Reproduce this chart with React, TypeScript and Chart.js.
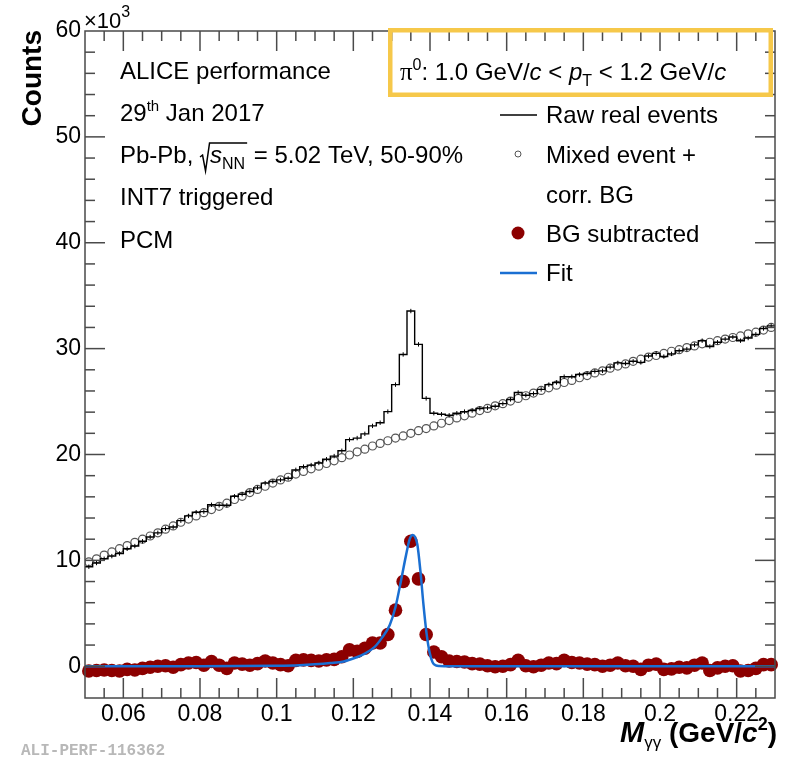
import React, { useEffect, useRef } from 'react';
import { Chart, registerables } from 'chart.js';

Chart.register(...registerables);

// ---- axis definition ----
const X_MIN = 0.05;
const X_MAX = 0.23;
const BIN_WIDTH = 0.002;
const Y_MIN = -3;
const Y_MAX = 60;
const X_TICK_LABELS = [0.06, 0.08, 0.1, 0.12, 0.14, 0.16, 0.18, 0.2, 0.22];
const Y_TICK_LABELS = [0, 10, 20, 30, 40, 50, 60];

// ---- data (counts in units of 10^3), one value per 0.002 GeV/c^2 bin ----
const MIXED_BG = [
  9.85, 10.15, 10.5, 10.8, 11.1, 11.4, 11.7, 12.0, 12.3, 12.6,
  12.95, 13.25, 13.6, 13.9, 14.2, 14.5, 14.8, 15.1, 15.4, 15.75,
  16.05, 16.4, 16.7, 17.0, 17.3, 17.6, 17.85, 18.15, 18.4, 18.65,
  18.9, 19.15, 19.4, 19.7, 19.95, 20.25, 20.5, 20.8, 21.05, 21.3,
  21.55, 21.75, 22.0, 22.25, 22.45, 22.7, 22.95, 23.2, 23.45, 23.65,
  23.9, 24.15, 24.35, 24.6, 24.8, 25.05, 25.3, 25.55, 25.8, 26.05,
  26.3, 26.55, 26.8, 27.0, 27.25, 27.45, 27.7, 27.9, 28.15, 28.35,
  28.55, 28.8, 29.0, 29.2, 29.35, 29.55, 29.75, 29.9, 30.1, 30.25,
  30.45, 30.6, 30.75, 30.9, 31.05, 31.2, 31.4, 31.55, 31.75, 32.0,
];

const BG_SUBTRACTED = [
  -0.45, -0.4, -0.35, -0.4, -0.45, -0.3, -0.35, -0.2, -0.1, 0.0,
  0.05, -0.1, 0.15, 0.3, 0.35, 0.1, 0.45, 0.1, -0.2, 0.3,
  0.2, 0.1, 0.25, 0.5, 0.3, 0.15, 0.05, 0.55, 0.6, 0.55,
  0.5, 0.6, 0.65, 0.9, 1.55, 1.4, 1.7, 2.2, 2.2, 3.0,
  5.3, 8.0, 11.8, 8.25, 3.0, 1.35, 0.9, 0.5, 0.45, 0.4,
  0.25, 0.2, 0.05, -0.05, 0.0, 0.15, 0.55, 0.05, -0.05, 0.1,
  0.3, 0.25, 0.55, 0.35, 0.3, 0.2, 0.15, 0.0, 0.1, 0.3,
  0.05, 0.0, -0.3, 0.1, 0.2, -0.3, -0.25, -0.1, -0.15, 0.1,
  0.3, -0.4, -0.15, 0.0, 0.05, -0.45, -0.4, -0.2, 0.15, 0.15,
];

const RAW_REAL = [
  9.4, 9.75, 10.15, 10.4, 10.65, 11.1, 11.35, 11.8, 12.2, 12.6,
  13.0, 13.15, 13.75, 14.2, 14.55, 14.6, 15.25, 15.2, 15.2, 16.05,
  16.25, 16.5, 16.85, 17.3, 17.45, 17.6, 17.75, 18.55, 18.85, 19.0,
  19.2, 19.55, 19.85, 20.35, 21.4, 21.55, 21.95, 22.7, 23.0, 24.05,
  26.6, 29.45, 33.55, 30.4, 25.3, 23.9, 23.8, 23.7, 23.9, 24.05,
  24.15, 24.35, 24.4, 24.55, 24.8, 25.2, 25.85, 25.6, 25.75, 26.15,
  26.6, 26.8, 27.35, 27.35, 27.55, 27.65, 27.85, 27.9, 28.25, 28.65,
  28.6, 28.8, 28.7, 29.3, 29.55, 29.25, 29.5, 29.8, 29.95, 30.35,
  30.75, 30.2, 30.6, 30.9, 31.1, 30.75, 31.0, 31.35, 31.9, 32.15,
];

const FIT_X = [
  0.05, 0.08, 0.1, 0.106, 0.11, 0.114, 0.1175, 0.1205, 0.123, 0.1255,
  0.1275, 0.1295, 0.131, 0.1325, 0.1337, 0.1347, 0.1355, 0.1361, 0.1367, 0.1375,
  0.1383, 0.1391, 0.1399, 0.1407, 0.1415, 0.1425, 0.1455, 0.18, 0.23,
];
const FIT_Y = [
  0.0, 0.0, 0.05, 0.1, 0.18, 0.3, 0.45, 0.8, 1.2, 1.8,
  2.7, 3.9, 5.6, 8.2, 10.4, 12.0, 12.4, 12.2, 11.5, 9.0,
  5.8, 3.1, 1.3, 0.35, 0.08, 0.02, 0.0, 0.0, 0.0,
];

// ---- styles ----
const SANS = '"Liberation Sans", Arial, Helvetica, sans-serif';
const SERIF = '"Liberation Serif", "Times New Roman", serif';
const MONO = '"Liberation Mono", "DejaVu Sans Mono", monospace';
const RED = '#8c0000';
const BLUE = '#1a6fd2';
const GREY = '#555555';
const AXIS = '#4a4a4a';
const BOX = '#f6c84a';

type Part = { t: string; size?: number; bold?: boolean; italic?: boolean; dy?: number; family?: string };

function drawRich(
  ctx: CanvasRenderingContext2D,
  x: number,
  y: number,
  parts: Part[],
  base: number,
  align: 'left' | 'right' = 'left',
) {
  const fontOf = (p: Part) =>
    `${p.italic ? 'italic ' : ''}${p.bold ? 'bold ' : ''}${p.size ?? base}px ${p.family ?? SANS}`;
  let total = 0;
  parts.forEach((p) => {
    ctx.font = fontOf(p);
    total += ctx.measureText(p.t).width;
  });
  let cx = align === 'right' ? x - total : x;
  ctx.textAlign = 'left';
  ctx.textBaseline = 'alphabetic';
  parts.forEach((p) => {
    ctx.font = fontOf(p);
    ctx.fillText(p.t, cx, y + (p.dy ?? 0));
    cx += ctx.measureText(p.t).width;
  });
  return cx;
}

const isLabelX = (v: number) => X_TICK_LABELS.some((l) => Math.abs(l - v) < 1e-7);
const isLabelY = (v: number) => Y_TICK_LABELS.some((l) => Math.abs(l - v) < 1e-7);

const rootStyle = {
  id: 'rootStyle',
  beforeDraw(chart: any) {
    const { ctx, width, height } = chart;
    ctx.save();
    ctx.fillStyle = '#ffffff';
    ctx.fillRect(0, 0, width, height);
    ctx.restore();
  },
  afterDatasetsDraw(chart: any) {
    // small statistical error bars on the raw histogram
    const { ctx, scales } = chart;
    const xs = scales.x;
    const ys = scales.y;
    ctx.save();
    ctx.strokeStyle = '#000';
    ctx.lineWidth = 1;
    RAW_REAL.forEach((v, i) => {
      const px = xs.getPixelForValue(X_MIN + (i + 0.5) * BIN_WIDTH);
      const py = ys.getPixelForValue(v);
      ctx.beginPath();
      ctx.moveTo(px, py - 2.2);
      ctx.lineTo(px, py + 2.2);
      ctx.stroke();
    });
    ctx.restore();
  },
  afterDraw(chart: any) {
    const { ctx, chartArea, scales } = chart;
    const { left, right, top, bottom } = chartArea;
    const xs = scales.x;
    const ys = scales.y;
    ctx.save();
    // frame + inner ticks
    ctx.strokeStyle = AXIS;
    ctx.lineWidth = 1.5;
    const seg = (x1: number, y1: number, x2: number, y2: number) => {
      ctx.beginPath();
      ctx.moveTo(x1, y1);
      ctx.lineTo(x2, y2);
      ctx.stroke();
    };
    xs.ticks.forEach((t: any) => {
      const px = xs.getPixelForValue(t.value);
      if (px <= left + 1 || px >= right - 1) return;
      const L = isLabelX(t.value) ? 20 : 10;
      seg(px, bottom, px, bottom - L);
      seg(px, top, px, top + L);
    });
    ys.ticks.forEach((t: any) => {
      const v = t.value;
      if (Math.abs(v / 2 - Math.round(v / 2)) > 1e-6) return;
      const py = ys.getPixelForValue(v);
      if (py >= bottom - 1 || py <= top + 1) return;
      const L = Math.abs(v / 10 - Math.round(v / 10)) < 1e-6 ? 20 : 10;
      seg(left, py, left + L, py);
      seg(right, py, right - L, py);
    });
    ctx.strokeRect(left, top, right - left, bottom - top);

    ctx.fillStyle = '#000';
    // y exponent
    drawRich(ctx, left - 1, 28, [{ t: '×10' }, { t: '3', size: 16, dy: -11 }], 22);

    // y title
    ctx.save();
    ctx.translate(41, top - 1);
    ctx.rotate(-Math.PI / 2);
    ctx.font = `bold 28px ${SANS}`;
    ctx.textAlign = 'right';
    ctx.textBaseline = 'alphabetic';
    ctx.fillText('Counts', 0, 0);
    ctx.restore();

    // x title
    drawRich(
      ctx,
      777,
      742,
      [
        { t: 'M', italic: true, bold: true, size: 29 },
        { t: 'γγ', size: 17, dy: 6 },
        { t: ' (GeV/', bold: true },
        { t: 'c', italic: true, bold: true },
        { t: '2', size: 18, dy: -12, bold: true },
        { t: ')', bold: true },
      ],
      28,
      'right',
    );

    // ALICE info
    const tx = 120;
    drawRich(ctx, tx, 79, [{ t: 'ALICE performance' }], 24);
    drawRich(ctx, tx, 121, [{ t: '29' }, { t: 'th', size: 15, dy: -10 }, { t: ' Jan 2017' }], 24);
    const rx = drawRich(ctx, tx, 163, [{ t: 'Pb-Pb, ' }], 24);
    const sx = rx + 10;
    const ex = drawRich(ctx, sx, 163, [{ t: 's', italic: true }, { t: 'NN', size: 16, dy: 6 }], 24);
    ctx.beginPath();
    ctx.lineWidth = 1.5;
    ctx.strokeStyle = '#000';
    ctx.moveTo(rx, 157);
    ctx.lineTo(rx + 2.5, 155);
    ctx.lineTo(rx + 5.5, 171);
    ctx.lineTo(rx + 9.5, 143);
    ctx.lineTo(ex + 2, 143);
    ctx.stroke();
    drawRich(ctx, ex + 2, 163, [{ t: ' = 5.02 TeV, 50-90%' }], 24);
    drawRich(ctx, tx, 205, [{ t: 'INT7 triggered' }], 24);
    drawRich(ctx, tx, 248, [{ t: 'PCM' }], 24);

    // pT box
    ctx.strokeStyle = BOX;
    ctx.lineWidth = 4.5;
    ctx.strokeRect(390.25, 30.25, 380.5, 64.5);
    drawRich(
      ctx,
      400,
      80,
      [
        { t: 'π', family: SERIF, size: 25 },
        { t: '0', size: 16, dy: -10 },
        { t: ': 1.0 GeV/' },
        { t: 'c', italic: true },
        { t: ' < ' },
        { t: 'p', italic: true },
        { t: 'T', size: 16, dy: 6 },
        { t: ' < 1.2 GeV/' },
        { t: 'c', italic: true },
      ],
      24,
    );

    // legend
    ctx.strokeStyle = '#000';
    ctx.lineWidth = 1.3;
    seg(500, 115, 537, 115);
    drawRich(ctx, 546, 123, [{ t: 'Raw real events' }], 24);
    ctx.strokeStyle = GREY;
    ctx.lineWidth = 1;
    ctx.beginPath();
    ctx.arc(518, 154, 3, 0, Math.PI * 2);
    ctx.stroke();
    drawRich(ctx, 546, 163, [{ t: 'Mixed event +' }], 24);
    drawRich(ctx, 546, 203, [{ t: 'corr. BG' }], 24);
    ctx.fillStyle = RED;
    ctx.beginPath();
    ctx.arc(518, 233, 6.5, 0, Math.PI * 2);
    ctx.fill();
    ctx.fillStyle = '#000';
    drawRich(ctx, 546, 242, [{ t: 'BG subtracted' }], 24);
    ctx.strokeStyle = BLUE;
    ctx.lineWidth = 2.5;
    seg(500, 273, 537, 273);
    drawRich(ctx, 546, 281, [{ t: 'Fit' }], 24);

    // figure id
    ctx.fillStyle = '#b8b8b8';
    ctx.font = `bold 16px ${MONO}`;
    ctx.textAlign = 'left';
    ctx.fillText('ALI-PERF-116362', 21, 755);
    ctx.restore();
  },
};

export default function App() {
  const ref = useRef<HTMLCanvasElement | null>(null);

  useEffect(() => {
    if (!ref.current) return;
    const centers = MIXED_BG.map((_, i) => X_MIN + (i + 0.5) * BIN_WIDTH);
    const rawStep = RAW_REAL.map((y, i) => ({ x: X_MIN + i * BIN_WIDTH, y })).concat([
      { x: X_MAX, y: RAW_REAL[RAW_REAL.length - 1] },
    ]);
    const tickFont = { family: SANS, size: 23 };
    const chart = new Chart(ref.current, {
      type: 'scatter',
      data: {
        datasets: [
          {
            type: 'line',
            label: 'Fit',
            data: FIT_X.map((x, i) => ({ x, y: FIT_Y[i] })),
            borderColor: BLUE,
            borderWidth: 2.5,
            pointRadius: 0,
            cubicInterpolationMode: 'monotone',
            fill: false,
          },
          {
            label: 'BG subtracted',
            data: centers.map((x, i) => ({ x, y: BG_SUBTRACTED[i] })),
            pointRadius: 6.8,
            pointBackgroundColor: RED,
            backgroundColor: RED,
            pointBorderWidth: 0,
            borderWidth: 0,
            clip: 8,
          },
          {
            type: 'line',
            label: 'Raw real events',
            data: rawStep,
            stepped: 'before',
            borderColor: '#000',
            borderWidth: 1.4,
            pointRadius: 0,
            fill: false,
          },
          {
            label: 'Mixed event + corr. BG',
            data: centers.map((x, i) => ({ x, y: MIXED_BG[i] })),
            pointRadius: 4,
            pointBorderColor: GREY,
            borderColor: GREY,
            pointBorderWidth: 1.2,
            pointBackgroundColor: 'rgba(0,0,0,0)',
            backgroundColor: 'rgba(0,0,0,0)',
          },
        ],
      } as any,
      options: {
        responsive: false,
        animation: false,
        devicePixelRatio: 1,
        events: [],
        layout: { padding: { top: 31, right: 13, left: 0, bottom: 0 } },
        plugins: { legend: { display: false }, tooltip: { enabled: false } },
        scales: {
          x: {
            type: 'linear',
            min: X_MIN,
            max: X_MAX,
            grid: { display: false, drawTicks: false },
            border: { display: false },
            ticks: {
              stepSize: 0.005,
              autoSkip: false,
              maxRotation: 0,
              padding: 3,
              color: '#000',
              font: tickFont,
              callback: (v: any) => (isLabelX(Number(v)) ? String(Math.round(Number(v) * 1000) / 1000) : ''),
            },
            afterFit: (s: any) => {
              s.height = 60;
            },
          },
          y: {
            type: 'linear',
            min: Y_MIN,
            max: Y_MAX,
            grid: { display: false, drawTicks: false },
            border: { display: false },
            ticks: {
              stepSize: 2,
              autoSkip: false,
              padding: 4,
              color: '#000',
              font: tickFont,
              callback: (v: any) => (isLabelY(Number(v)) ? String(Math.round(Number(v))) : ''),
            },
            afterFit: (s: any) => {
              s.width = 85;
            },
          },
        },
      } as any,
      plugins: [rootStyle],
    });
    return () => chart.destroy();
  }, []);

  return (
    <div style={{ position: 'fixed', left: 0, top: 0, width: 788, height: 758, background: '#fff' }}>
      <canvas ref={ref} width={788} height={758} style={{ display: 'block', width: 788, height: 758 }} />
    </div>
  );
}
